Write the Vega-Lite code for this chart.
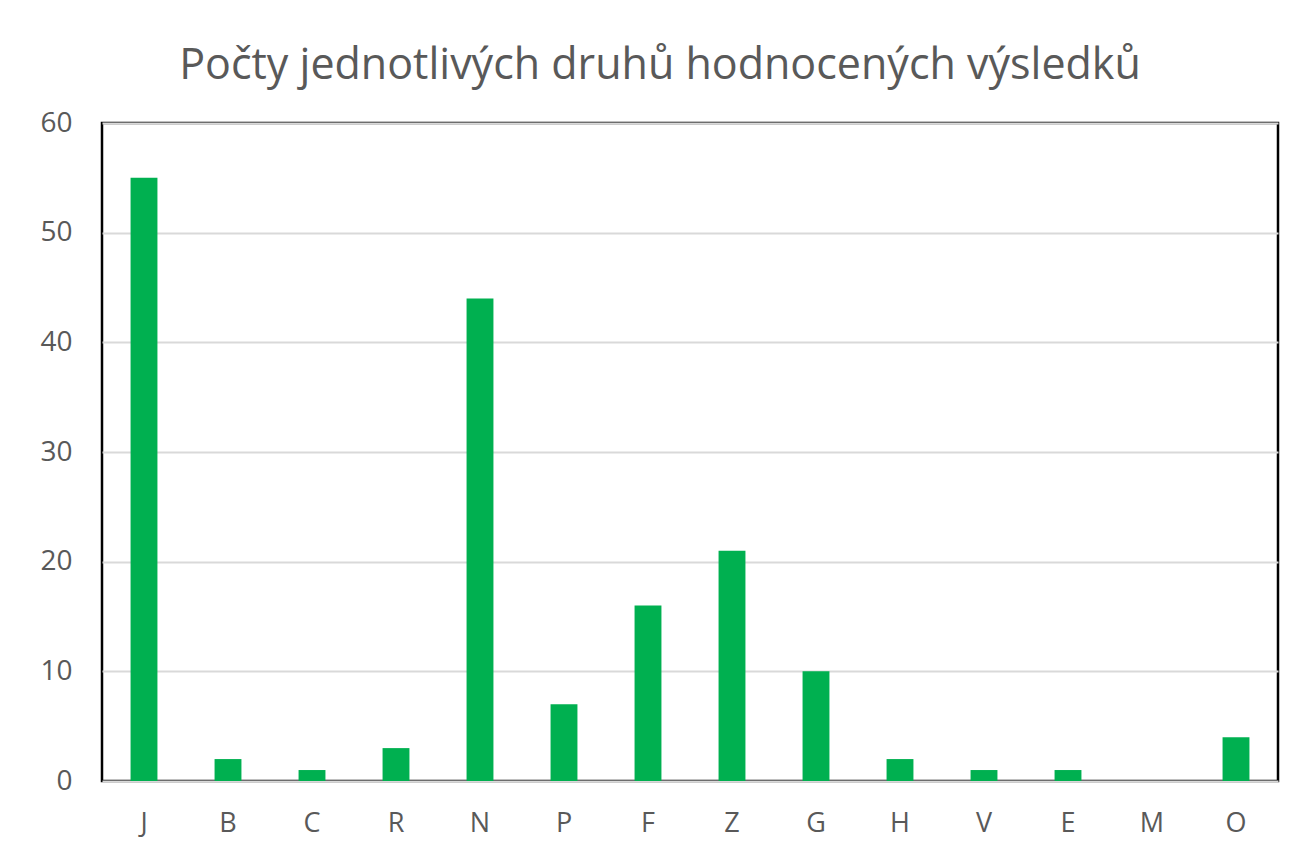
{
  "$schema": "https://vega.github.io/schema/vega-lite/v6.json",
  "autosize": {"type": "none"},
  "width": 1176,
  "height": 658,
  "padding": {"left": 102, "top": 123, "right": 16, "bottom": 64},
  "background": "white",
  "title": {
    "text": "Počty jednotlivých druhů hodnocených výsledků",
    "font": "Open Sans",
    "fontSize": 43,
    "fontWeight": "normal",
    "color": "#595959",
    "anchor": "middle",
    "frame": "group",
    "dx": -30,
    "offset": 21
  },
  "data": {
    "values": [
      {"k": "J", "v": 55},
      {"k": "B", "v": 2},
      {"k": "C", "v": 1},
      {"k": "R", "v": 3},
      {"k": "N", "v": 44},
      {"k": "P", "v": 7},
      {"k": "F", "v": 16},
      {"k": "Z", "v": 21},
      {"k": "G", "v": 10},
      {"k": "H", "v": 2},
      {"k": "V", "v": 1},
      {"k": "E", "v": 1},
      {"k": "M", "v": 0},
      {"k": "O", "v": 4}
    ]
  },
  "mark": {"type": "bar", "color": "#00B050"},
  "encoding": {
    "x": {
      "field": "k",
      "type": "nominal",
      "sort": null,
      "scale": {"paddingInner": 0.68, "paddingOuter": 0.34},
      "axis": {
        "title": null,
        "labelAngle": 0,
        "labelFont": "Open Sans",
        "labelFontSize": 27,
        "labelColor": "#595959",
        "labelPadding": 29,
        "ticks": false,
        "domain": false,
        "grid": false
      }
    },
    "y": {
      "field": "v",
      "type": "quantitative",
      "scale": {"domain": [0, 60], "nice": false},
      "axis": {
        "title": null,
        "values": [0, 10, 20, 30, 40, 50, 60],
        "labelFont": "Open Sans",
        "labelFontSize": 28,
        "labelColor": "#595959",
        "labelPadding": 30,
        "ticks": false,
        "domain": false,
        "grid": true,
        "gridColor": "#D9D9D9",
        "gridWidth": 2
      }
    }
  },
  "config": {
    "view": {"stroke": "black", "strokeWidth": 2.5}
  }
}
